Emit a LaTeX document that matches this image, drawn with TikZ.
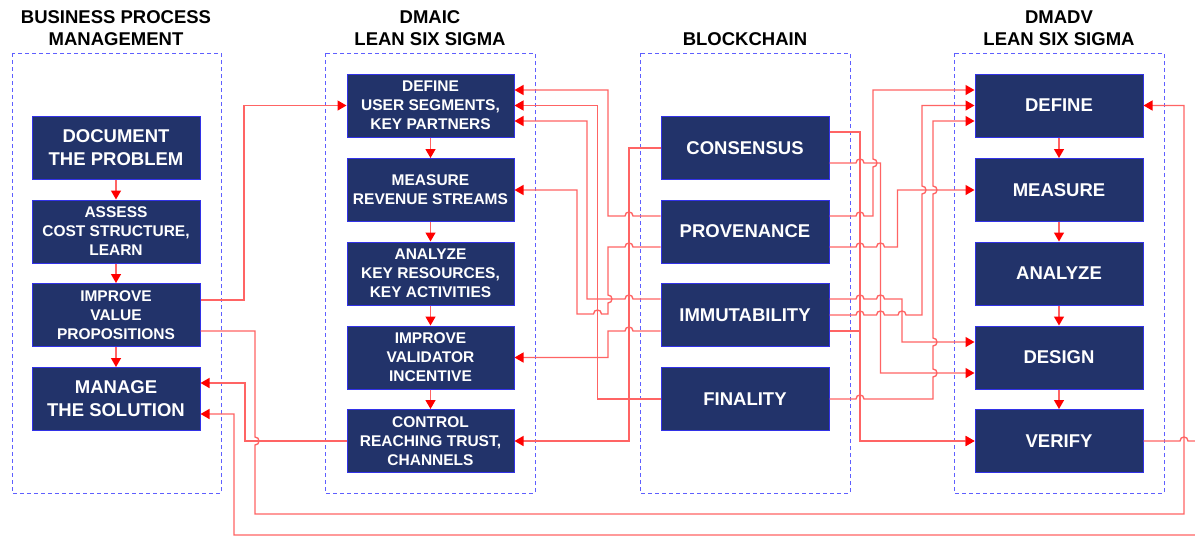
\documentclass[tikz,border=0pt]{standalone}
\usepackage{fontspec}
\setmainfont{Liberation Sans}
\usetikzlibrary{arrows.meta}
\definecolor{boxfill}{RGB}{34,51,106}
\definecolor{boxline}{RGB}{50,50,230}
\definecolor{contline}{RGB}{95,95,255}
\definecolor{connred}{RGB}{255,100,100}
\tikzset{
  container/.style={draw=contline,line width=1pt,dash pattern=on 4pt off 3pt},
  title/.style={font=\bfseries\fontsize{18.5}{22}\selectfont,align=center,inner sep=0pt},
  stepbox/.style={draw=boxline,fill=boxfill,line width=1pt,text=white,align=center,
    minimum width=168pt,minimum height=63pt,inner sep=0pt,
    font=\bfseries\fontsize{15.5}{19}\selectfont},
  bigbox/.style={stepbox,font=\bfseries\fontsize{18.5}{23}\selectfont},
  conn/.style={draw=connred,line width=1.35pt},
  arr/.style={-{Triangle[length=9pt,width=10pt,color=red]}},
  hopr/.style 2 args={insert path={-- (#1-4,#2) .. controls (#1-4,#2-5.3) and (#1+4,#2-5.3) .. (#1+4,#2)}},
  hopl/.style 2 args={insert path={-- (#1+4,#2) .. controls (#1+4,#2-5.3) and (#1-4,#2-5.3) .. (#1-4,#2)}},
  hopd/.style 2 args={insert path={-- (#1,#2-4) .. controls (#1+5.3,#2-4) and (#1+5.3,#2+4) .. (#1,#2+4)}},
  hopu/.style 2 args={insert path={-- (#1,#2+4) .. controls (#1+5.3,#2+4) and (#1+5.3,#2-4) .. (#1,#2-4)}},
}
\begin{document}
\begin{tikzpicture}[x=1pt,y=-1pt]
\useasboundingbox[fill=white] (0,0) rectangle (1195,536);

% containers
\draw[container] (12,53) rectangle (221,493);
\draw[container] (325,53) rectangle (535,493);
\draw[container] (640,53) rectangle (850,493);
\draw[container] (954,53) rectangle (1164,493);

% titles
\node[title] (t1) at (116,28) {BUSINESS PROCESS\\MANAGEMENT};
\node[title] (t2) at (430,28) {DMAIC\\LEAN SIX SIGMA};
\node[title] (t3) at (745,39) {BLOCKCHAIN};
\node[title] (t4) at (1059,28) {DMADV\\LEAN SIX SIGMA};

% BPM
\node[bigbox] (doc) at (116,148) {DOCUMENT\\THE PROBLEM};
\node[stepbox] (ass) at (116,231.5) {ASSESS\\COST STRUCTURE,\\LEARN};
\node[stepbox] (ivp) at (116,315) {IMPROVE\\VALUE\\PROPOSITIONS};
\node[bigbox] (man) at (116,399) {MANAGE\\THE SOLUTION};

% DMAIC
\node[stepbox,minimum width=167pt] (ma1) at (430.5,105.5) {DEFINE\\USER SEGMENTS,\\KEY PARTNERS};
\node[stepbox,minimum width=167pt] (ma2) at (430.5,190) {MEASURE\\REVENUE STREAMS};
\node[stepbox,minimum width=167pt] (ma3) at (430.5,273.5) {ANALYZE\\KEY RESOURCES,\\KEY ACTIVITIES};
\node[stepbox,minimum width=167pt] (ma4) at (430.5,357.5) {IMPROVE\\VALIDATOR\\INCENTIVE};
\node[stepbox,minimum width=167pt] (ma5) at (430.5,441) {CONTROL\\REACHING TRUST,\\CHANNELS};

% Blockchain
\node[bigbox] (cons) at (745,148) {CONSENSUS};
\node[bigbox] (prov) at (745,231.5) {PROVENANCE};
\node[bigbox] (imm) at (745,315) {IMMUTABILITY};
\node[bigbox] (fin) at (745,399) {FINALITY};

% DMADV
\node[bigbox] (mv1) at (1059,105.5) {DEFINE};
\node[bigbox] (mv2) at (1059,190) {MEASURE};
\node[bigbox] (mv3) at (1059,273.5) {ANALYZE};
\node[bigbox] (mv4) at (1059,357.5) {DESIGN};
\node[bigbox] (mv5) at (1059,441) {VERIFY};

% vertical flows
\draw[conn,arr] (doc) -- (ass);
\draw[conn,arr] (ass) -- (ivp);
\draw[conn,arr] (ivp) -- (man);
\draw[conn,arr] (ma1) -- (ma2);
\draw[conn,arr] (ma2) -- (ma3);
\draw[conn,arr] (ma3) -- (ma4);
\draw[conn,arr] (ma4) -- (ma5);
\draw[conn,arr] (mv1) -- (mv2);
\draw[conn,arr] (mv2) -- (mv3);
\draw[conn,arr] (mv3) -- (mv4);
\draw[conn,arr] (mv4) -- (mv5);

% BPM links
\draw[conn,arr] ([yshift=15pt]ivp.east) -- (244,300) -- (244,105.5) -- (ma1.west);
\draw[conn,arr] ([yshift=-16pt]ivp.east) -- (255,331) [hopd={255}{441}] -- (255,514) -- (1184,514) -- (1184,105.5) -- (mv1.east);
\draw[conn,arr] (ma5.west) -- (245,441) -- (245,383) -- ([yshift=16pt]man.east);
\draw[conn,arr] (mv5.east) [hopr={1184}{441}] -- (1200,441) -- (1200,535) -- (234,535) -- (234,414) -- ([yshift=-15pt]man.east);

% Blockchain -> DMAIC
\draw[conn,arr] ([yshift=15.5pt]prov.west) [hopl={629}{216}] -- (608,216) -- (608,90) -- ([yshift=15.5pt]ma1.east);
\draw[conn,arr] (fin.west) -- (597.5,399) -- (597.5,105.5) -- (ma1.east);
\draw[conn,arr] ([yshift=16pt]imm.west) [hopl={629}{299}] -- (587,299) -- (587,121) -- ([yshift=-15.5pt]ma1.east);
\draw[conn,arr] ([yshift=-15.5pt]prov.west) [hopl={629}{247}] -- (608,247) [hopd={608}{299}] -- (608,314) [hopl={597.5}{314}] -- (577,314) -- (577,190) -- (ma2.east);
\draw[conn,arr] ([yshift=-16pt]imm.west) [hopl={629}{331}] -- (608,331) -- (608,357.5) -- (ma4.east);
\draw[conn,arr] (cons.west) -- (629,148) -- (629,441) -- (ma5.east);

% Blockchain -> DMADV
\draw[conn,arr] ([yshift=16pt]cons.east) -- (860,132) -- (860,441) -- (mv5.west);
\draw[conn,arr] ([yshift=-15pt]cons.east) [hopr={860}{163}] -- (880.5,163) -- (880.5,373) -- ([yshift=-15.5pt]mv4.west);
\draw[conn,arr] ([yshift=15.5pt]prov.east) [hopr={860}{216}] -- (873,216) [hopu={873}{163}] -- (873,90) -- ([yshift=15.5pt]mv1.west);
\draw[conn,arr] ([yshift=-15.5pt]prov.east) [hopr={860}{247}] [hopr={880.5}{247}] -- (897.5,247) -- (897.5,190) -- (mv2.west);
\draw[conn,arr] ([yshift=16pt]imm.east) [hopr={860}{299}] [hopr={880.5}{299}] -- (902,299) -- (902,342) -- ([yshift=15.5pt]mv4.west);
\draw[conn,arr] (imm.east) [hopr={860}{315}] [hopr={880.5}{315}] [hopr={902}{315}] -- (922,315) [hopu={922}{190}] -- (922,105.5) -- (mv1.west);
\draw[conn,arr] ([yshift=-16pt]imm.east) -- (860,331) -- (860,441) -- (mv5.west);
\draw[conn,arr] (fin.east) [hopr={860}{399}] -- (933,399) [hopu={933}{373}] [hopu={933}{342}] [hopu={933}{190}] -- (933,121) -- ([yshift=-15.5pt]mv1.west);
\end{tikzpicture}
\end{document}
